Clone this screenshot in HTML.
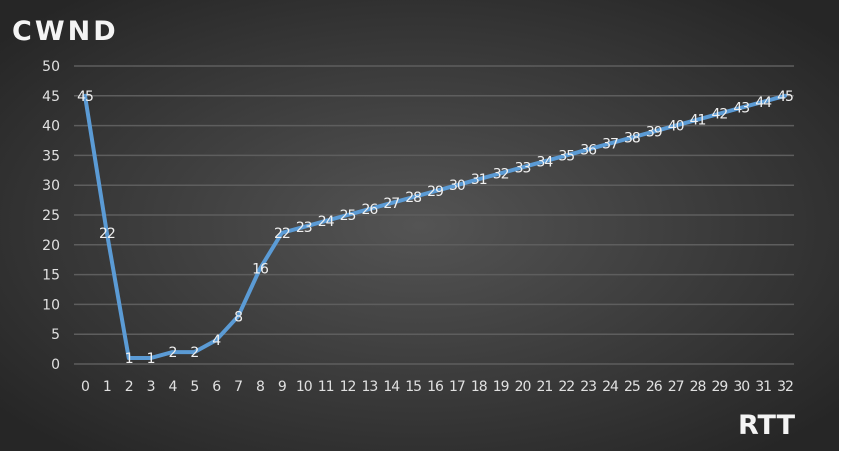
<!DOCTYPE html>
<html><head><meta charset="utf-8"><style>
html,body{margin:0;padding:0;background:#fff;}
#wrap{position:relative;width:861px;height:451px;background:#fff;}
svg{position:absolute;left:0;top:0;}
</style></head><body>
<div id="wrap">
<svg id="chart" width="861" height="451">
<defs>
<radialGradient id="bg" cx="50%" cy="50%" r="65%">
<stop offset="0" stop-color="#545454"/>
<stop offset="1" stop-color="#262626"/>
</radialGradient>
</defs>
<rect x="0" y="0" width="839" height="451" fill="url(#bg)"/>
<text x="12" y="40" fill="#f4f4f4" font-family="'DejaVu Sans','Liberation Sans',sans-serif" font-size="27" font-weight="bold" letter-spacing="3">CWND</text>
<text x="795" y="434" text-anchor="end" fill="#f4f4f4" font-family="'DejaVu Sans','Liberation Sans',sans-serif" font-size="27" font-weight="bold">RTT</text>
<g id="grid"></g><g id="yticks"></g><g id="xticks"></g><g id="series"></g><g id="labels"></g>
</svg>
</div>
<script>
const categories = [0,1,2,3,4,5,6,7,8,9,10,11,12,13,14,15,16,17,18,19,20,21,22,23,24,25,26,27,28,29,30,31,32];
const cwndValues = [45,22,1,1,2,2,4,8,16,22,23,24,25,26,27,28,29,30,31,32,33,34,35,36,37,38,39,40,41,42,43,44,45];
const yTickLabels = [0,5,10,15,20,25,30,35,40,45,50];

const NS='http://www.w3.org/2000/svg';
const x0=85,x1=785,yBase=364,yTop=66,yMax=50;
const xs=i=>x0+(x1-x0)*i/(categories.length-1);
const ys=v=>yBase-(yBase-yTop)*v/yMax;
function mk(tag,attrs,parent){const e=document.createElementNS(NS,tag);for(const k in attrs)e.setAttribute(k,attrs[k]);parent.appendChild(e);return e;}
const font="'DejaVu Sans','Liberation Sans',sans-serif";
const grid=document.getElementById('grid'),yt=document.getElementById('yticks'),xt=document.getElementById('xticks');
yTickLabels.forEach(v=>{
  const l=mk('line',{x1:74,x2:794,y1:ys(v),y2:ys(v),stroke:'#5e5e5e','stroke-width':1.5},grid);
  
  
  const t=mk('text',{x:60,y:ys(v)+5,'text-anchor':'end',fill:'#e0e0e0','font-family':font,'font-size':14},yt);
  t.textContent=v;
  
  
});
categories.forEach((c,i)=>{
  const t=mk('text',{x:xs(i),y:391,'text-anchor':'middle',fill:'#e0e0e0','font-family':font,'font-size':14,'letter-spacing':-1},xt);
  t.textContent=c;
  
  
});
const pts=cwndValues.map((v,i)=>xs(i)+','+ys(v)).join(' ');
const line=mk('polyline',{points:pts,fill:'none',stroke:'#5b9bd5','stroke-width':4,'stroke-linejoin':'round','stroke-linecap':'round'},document.getElementById('series'));


const lg=document.getElementById('labels');
cwndValues.forEach((v,i)=>{
  const t=mk('text',{x:xs(i),y:ys(v)+5,'text-anchor':'middle',fill:'#f0f0f0','font-family':font,'font-size':14,'letter-spacing':-1},lg);
  t.textContent=v;
  
  
});
</script>
</body></html>
